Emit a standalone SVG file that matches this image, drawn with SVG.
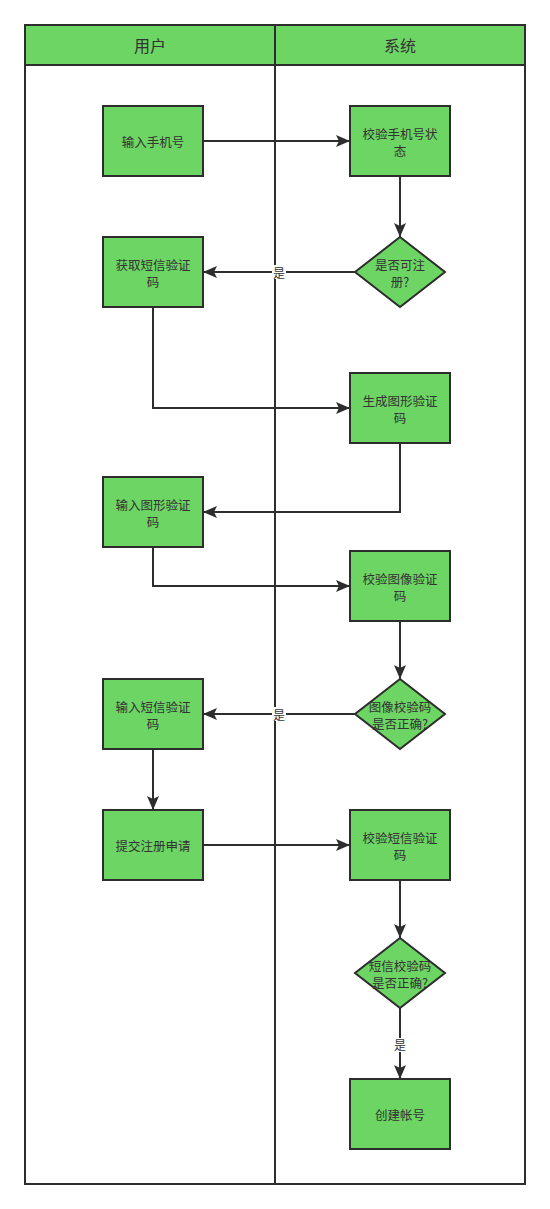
<svg xmlns="http://www.w3.org/2000/svg" width="550" height="1209" viewBox="0 0 550 1209">
<style>
.lane{fill:#fff;stroke:#2d2d2d;stroke-width:2}
.hdr{fill:#6dd564;stroke:#2d2d2d;stroke-width:2}
.n{fill:#6dd564;stroke:#2d2d2d;stroke-width:2}
.t{font-family:"Noto Sans CJK SC","Liberation Sans",sans-serif;font-size:12.5px;fill:#333;text-anchor:middle}
.h{font-family:"Noto Sans CJK SC","Liberation Sans",sans-serif;font-size:16px;fill:#333;text-anchor:middle}
.c{fill:none;stroke:#2d2d2d;stroke-width:2}
.lb{font-family:"Noto Sans CJK SC","Liberation Sans",sans-serif;font-size:12px;fill:#333;text-anchor:middle}
</style>
<defs>
<marker id="a" viewBox="0 0 14 12" refX="14" refY="6" markerWidth="14" markerHeight="12" markerUnits="userSpaceOnUse" orient="auto">
<path d="M0,0 L14,6 L0,12 L3,6 Z" fill="#2d2d2d"/>
</marker>
</defs>
<g id="lanes">
<rect class="lane" x="25" y="25" width="500" height="1159"/>
<rect class="hdr" x="25" y="25" width="250" height="40"/>
<rect class="hdr" x="275" y="25" width="250" height="40"/>
<line x1="275" y1="65" x2="275" y2="1184" stroke="#2d2d2d" stroke-width="2"/>
<text class="h" x="150" y="52">用户</text>
<text class="h" x="400" y="52">系统</text>
</g>
<g id="connectors">
<path class="c" d="M203,141 H350" marker-end="url(#a)"/>
<path class="c" d="M400,176 V237" marker-end="url(#a)"/>
<path class="c" d="M355,272 H203" marker-end="url(#a)"/>
<path class="c" d="M153,307 V408 H350" marker-end="url(#a)"/>
<path class="c" d="M400,443 V512 H203" marker-end="url(#a)"/>
<path class="c" d="M153,547 V586 H350" marker-end="url(#a)"/>
<path class="c" d="M400,621 V679" marker-end="url(#a)"/>
<path class="c" d="M355,714 H203" marker-end="url(#a)"/>
<path class="c" d="M153,749 V810" marker-end="url(#a)"/>
<path class="c" d="M203,845 H350" marker-end="url(#a)"/>
<path class="c" d="M400,880 V938" marker-end="url(#a)"/>
<path class="c" d="M400,1008 V1079" marker-end="url(#a)"/>
<rect x="272" y="265" width="14" height="14" fill="#fff"/>
<text class="lb" x="279" y="278">是</text>
<rect x="272" y="707" width="14" height="14" fill="#fff"/>
<text class="lb" x="279" y="720">是</text>
<rect x="393" y="1038" width="14" height="14" fill="#fff"/>
<text class="lb" x="400" y="1050">是</text>
</g>
<g id="n1"><rect class="n" x="103" y="106" width="100" height="70"/><text class="t" x="153" y="147">输入手机号</text></g>
<g id="n2"><rect class="n" x="350" y="106" width="100" height="70"/><text class="t" x="400" y="139">校验手机号状</text><text class="t" x="400" y="156">态</text></g>
<g id="n3"><path class="n" d="M400,237 L445,272 L400,307 L355,272 Z"/><text class="t" x="400" y="270">是否可注</text><text class="t" x="400" y="287">册?</text></g>
<g id="n4"><rect class="n" x="103" y="237" width="100" height="70"/><text class="t" x="153" y="270">获取短信验证</text><text class="t" x="153" y="287">码</text></g>
<g id="n5"><rect class="n" x="350" y="373" width="100" height="70"/><text class="t" x="400" y="406">生成图形验证</text><text class="t" x="400" y="423">码</text></g>
<g id="n6"><rect class="n" x="103" y="477" width="100" height="70"/><text class="t" x="153" y="510">输入图形验证</text><text class="t" x="153" y="527">码</text></g>
<g id="n7"><rect class="n" x="350" y="551" width="100" height="70"/><text class="t" x="400" y="584">校验图像验证</text><text class="t" x="400" y="601">码</text></g>
<g id="n8"><path class="n" d="M400,679 L445,714 L400,749 L355,714 Z"/><text class="t" x="400" y="712">图像校验码</text><text class="t" x="400" y="729">是否正确?</text></g>
<g id="n9"><rect class="n" x="103" y="679" width="100" height="70"/><text class="t" x="153" y="712">输入短信验证</text><text class="t" x="153" y="729">码</text></g>
<g id="n10"><rect class="n" x="103" y="810" width="100" height="70"/><text class="t" x="153" y="851">提交注册申请</text></g>
<g id="n11"><rect class="n" x="350" y="810" width="100" height="70"/><text class="t" x="400" y="843">校验短信验证</text><text class="t" x="400" y="860">码</text></g>
<g id="n12"><path class="n" d="M400,938 L445,973 L400,1008 L355,973 Z"/><text class="t" x="400" y="971">短信校验码</text><text class="t" x="400" y="988">是否正确?</text></g>
<g id="n13"><rect class="n" x="350" y="1079" width="100" height="70"/><text class="t" x="400" y="1120">创建帐号</text></g>
</svg>
